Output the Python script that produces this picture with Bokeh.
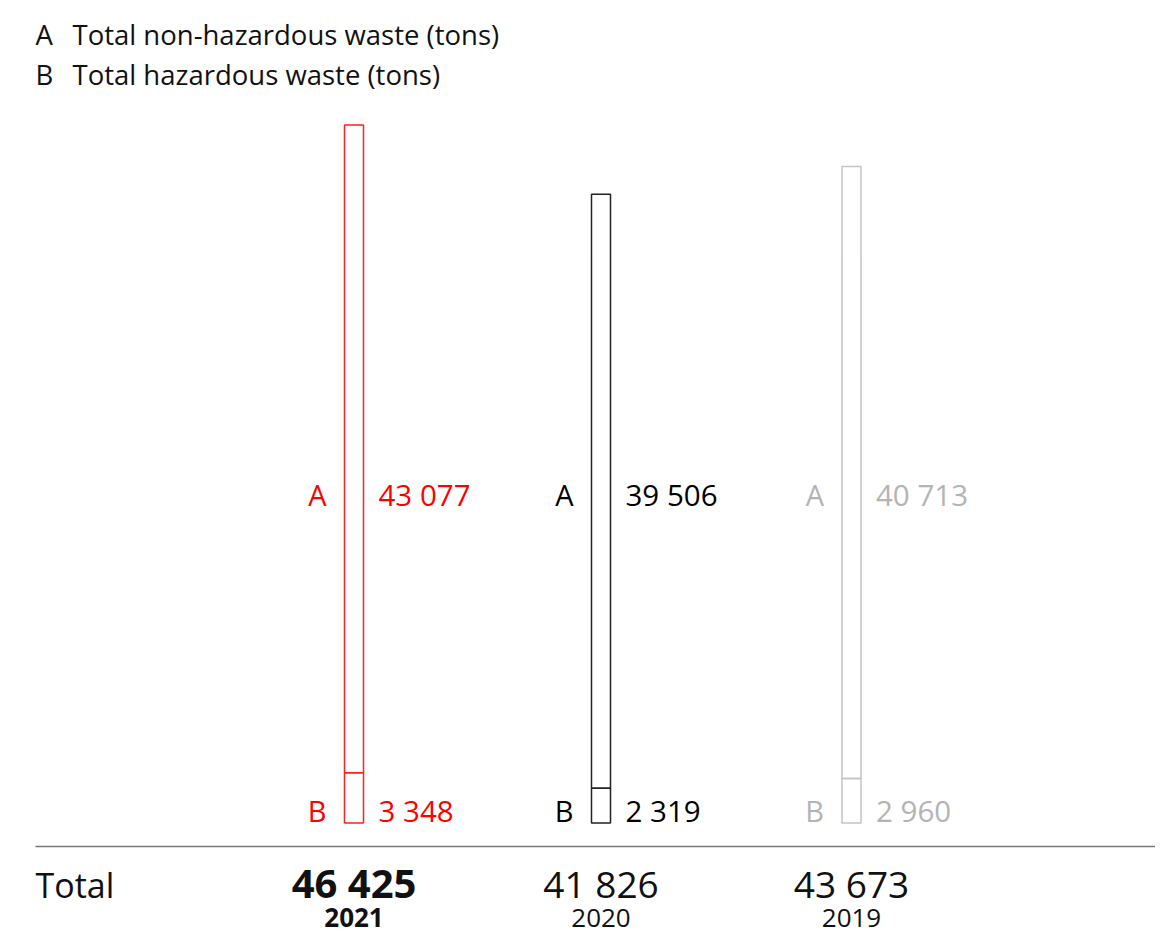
from bokeh.plotting import figure
from bokeh.models import Range1d, ColumnDataSource
from bokeh.core.properties import value
from bokeh.embed import file_html
from bokeh.resources import INLINE

# ---- data ----
years = ["2021", "2020", "2019"]
non_hazardous = [43077, 39506, 40713]   # A
hazardous = [3348, 2319, 2960]          # B
totals = [46425, 41826, 43673]
a_labels = ["43 077", "39 506", "40 713"]
b_labels = ["3 348", "2 319", "2 960"]
total_labels = ["46 425", "41 826", "43 673"]
legend_keys = ["A", "B"]
legend_texts = ["Total non-hazardous waste (tons)", "Total hazardous waste (tons)"]

# ---- styling / layout ----
colors = ["#ff0000", "#000000", "#b4b4b4"]
bar_colors = ["#ff2020", "#222222", "#c4c4c4"]
centers = [353.5, 600.5, 851.0]
bar_w = 19
FONT = "Open Sans"

W, H = 1155, 936
BASE = 822.5             # screen y of zero
SCALE = 698 / 46425      # px per ton
K = 0.41                 # baseline correction (fraction of font size)

def sy(screen_y):
    return (BASE - screen_y) / SCALE

def ty(baseline_y, fs):
    return sy(baseline_y - K * fs)

p = figure(width=W, height=H, output_backend="svg", toolbar_location=None,
           x_range=Range1d(0, W), y_range=Range1d(sy(H), sy(0)),
           min_border=0)
p.axis.visible = False
p.grid.visible = False
p.outline_line_color = None
p.background_fill_color = "white"

# bars
src = ColumnDataSource(dict(
    left=[c - bar_w / 2 for c in centers],
    right=[c + bar_w / 2 for c in centers],
    b=hazardous,
    t=totals,
    z=[0] * 3,
    col=bar_colors,
))
p.quad(left="left", right="right", bottom="z", top="b", source=src,
       fill_color=None, line_color="col", line_width=1.5)
p.quad(left="left", right="right", bottom="b", top="t", source=src,
       fill_color=None, line_color="col", line_width=1.5)

# legend
LFS = 27.5
for i, (k, t) in enumerate(zip(legend_keys, legend_texts)):
    yy = ty(45 + 40 * i, LFS)
    p.text(x=[35], y=[yy], text=[k], text_font=value(FONT), text_font_size=f"{LFS}px",
           text_color="#111111", text_baseline="alphabetic")
    p.text(x=[72], y=[yy], text=[t], text_font=value(FONT), text_font_size=f"{LFS}px",
           text_color="#111111", text_baseline="alphabetic")

# segment labels
SFS = 29.5
lsrc = ColumnDataSource(dict(
    xl=[c - bar_w / 2 - 18 for c in centers],
    xr=[c + bar_w / 2 + 15 for c in centers],
    ya=[ty(506, SFS)] * 3,
    yb=[ty(822, SFS)] * 3,
    a=a_labels, bl=b_labels, col=colors,
    ka=["A"] * 3, kb=["B"] * 3,
))
for key, yk, tk in (("ka", "ya", "a"), ("kb", "yb", "bl")):
    p.text(x="xl", y=yk, text=key, source=lsrc, text_color="col",
           text_font=value(FONT), text_font_size="29px", text_align="right",
           text_baseline="alphabetic")
    p.text(x="xr", y=yk, text=tk, source=lsrc, text_color="col",
           text_font=value(FONT), text_font_size=f"{SFS}px", text_align="left",
           text_baseline="alphabetic")

# divider line
p.segment(x0=[35], x1=[W], y0=[sy(846)], y1=[sy(846)], line_color="#777777",
          line_width=1.5)

# totals row
TB = 898
p.text(x=[35], y=[ty(TB, 34)], text=["Total"], text_font=value(FONT),
       text_font_size="34px", text_color="#111111", text_baseline="alphabetic")
tsrc = ColumnDataSource(dict(x=centers,
                             y=[ty(TB, 40), ty(TB, 37), ty(TB, 37)],
                             t=total_labels,
                             yr=years, yy=[ty(928, 26)] * 3,
                             fs=["bold", "normal", "normal"],
                             sz=["40px", "37px", "37px"]))
p.text(x="x", y="y", text="t", source=tsrc, text_font=value(FONT),
       text_font_size="sz", text_color="#111111", text_align="center",
       text_baseline="alphabetic", text_font_style="fs")
p.text(x="x", y="yy", text="yr", source=tsrc, text_font=value(FONT),
       text_font_size="26px", text_color="#111111", text_align="center",
       text_baseline="alphabetic", text_font_style="fs")

open("out.html", "w").write(file_html(p, INLINE))
